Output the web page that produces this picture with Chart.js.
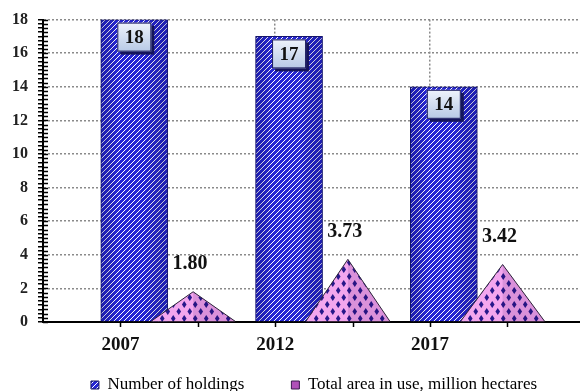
<!DOCTYPE html>
<html>
<head>
<meta charset="utf-8">
<script src="https://cdn.jsdelivr.net/npm/chart.js@4/dist/chart.umd.min.js"></script>
<style>
  html, body { margin: 0; padding: 0; background: #fff; }
  #wrap { width: 580px; height: 391px; position: relative; }
</style>
</head>
<body>
<div id="wrap"><canvas id="holdingsChart"></canvas></div>
<script>
// data
var years = ["2007", "2012", "2017"];
var holdings = [18, 17, 14];
var areaUsed = [1.80, 3.73, 3.42];
var seriesNames = ["Number of holdings", "Total area in use, million hectares"];
var yTicks = [0, 2, 4, 6, 8, 10, 12, 14, 16, 18];

// where the marks sit inside each year slot (the picture is a 3D-ish column chart)
var BAR_SHIFT = 0.09;
var PYR_SHIFT = 0.47;
var X_MAX = 3.47;

var SERIF = "'Liberation Serif', 'Times New Roman', serif";

//-----------------
//- fill patterns -
//-----------------
function makeStripes() {
  var c = document.createElement("canvas");
  c.width = 5; c.height = 5;
  var g = c.getContext("2d");
  g.fillStyle = "#2626d4";
  g.fillRect(0, 0, 5, 5);
  g.strokeStyle = "#ffffff";
  g.lineWidth = 1.0;
  [[-2.5, 2.5, 2.5, -2.5], [0, 5, 5, 0], [2.5, 7.5, 7.5, 2.5]].forEach(function (l) {
    g.beginPath(); g.moveTo(l[0], l[1]); g.lineTo(l[2], l[3]); g.stroke();
  });
  return g.createPattern(c, "repeat");
}

function makeDiamonds() {
  var c = document.createElement("canvas");
  c.width = 11; c.height = 14;
  var g = c.getContext("2d");
  g.fillStyle = "#f3a6ee";
  g.fillRect(0, 0, 11, 14);
  g.fillStyle = "#26188a";
  function diamond(cx, cy) {
    g.beginPath();
    g.moveTo(cx, cy - 3.4); g.lineTo(cx + 2.3, cy); g.lineTo(cx, cy + 3.4); g.lineTo(cx - 2.3, cy);
    g.closePath(); g.fill();
  }
  diamond(2.75, 3.5); diamond(8.25, 10.5); diamond(8.25, -3.5); diamond(2.75, 17.5);
  return g.createPattern(c, "repeat");
}

var stripePattern = makeStripes();
var diamondPattern = makeDiamonds();

function isYearTick(v) {
  var k = v - 0.5;
  return Math.abs(k - Math.round(k)) < 1e-6 && Math.round(k) >= 0 && Math.round(k) < years.length;
}
function isHalfTick(v) {
  return v > 0 && Math.abs(v * 2 - Math.round(v * 2)) < 1e-6;
}
function isMajorY(v) {
  return yTicks.indexOf(Math.round(v * 100) / 100) !== -1;
}

//---------------------------------
//- pyramids, shading and labels -
//---------------------------------
var decorPlugin = {
  id: "decor",
  afterLayout: function (chart) {
    // legend row sits lower and a bit right of where Chart.js puts it
    // (its label padding is used here as the wide gap between the two items)
    var lg = chart.legend;
    if (lg) {
      lg.left = 24;
      lg.right = 604;
      lg.top = 329.5;
      lg.bottom = chart.height;
      lg.height = lg.bottom - lg.top;
      lg.width = lg.right - lg.left;
    }
  },
  afterDatasetsDraw: function (chart) {
    var ctx = chart.ctx;
    var bars = chart.getDatasetMeta(0).data;
    var pyr = chart.getDatasetMeta(1).data;

    // cylinder shading on the columns
    bars.forEach(function (el) {
      var p = el.getProps(["x", "y", "base", "width"], true);
      var l = p.x - p.width / 2, r = p.x + p.width / 2;
      var gr = ctx.createLinearGradient(l, 0, r, 0);
      gr.addColorStop(0, "rgba(10,10,100,0.3)");
      gr.addColorStop(0.25, "rgba(0,0,0,0)");
      gr.addColorStop(0.65, "rgba(0,0,0,0)");
      gr.addColorStop(1, "rgba(10,10,100,0.3)");
      ctx.save();
      ctx.fillStyle = gr;
      ctx.fillRect(l, p.y, p.width, p.base - p.y);
      ctx.restore();
    });

    // pyramids
    pyr.forEach(function (el) {
      var p = el.getProps(["x", "y", "base", "width"], true);
      var l = p.x - p.width / 2, r = p.x + p.width / 2;
      ctx.save();
      ctx.beginPath();
      ctx.moveTo(l, p.base); ctx.lineTo(p.x, p.y); ctx.lineTo(r, p.base); ctx.closePath();
      ctx.fillStyle = diamondPattern;
      ctx.fill();
      ctx.beginPath();
      ctx.moveTo(p.x, p.base); ctx.lineTo(p.x, p.y); ctx.lineTo(r, p.base); ctx.closePath();
      ctx.fillStyle = "rgba(40,0,70,0.12)";
      ctx.fill();
      ctx.beginPath();
      ctx.moveTo(l, p.base); ctx.lineTo(p.x, p.y); ctx.lineTo(r, p.base);
      ctx.strokeStyle = "#2b2238";
      ctx.lineWidth = 1;
      ctx.stroke();
      ctx.restore();
    });

    // value boxes on the columns
    ctx.save();
    ctx.font = "bold 19px " + SERIF;
    ctx.textAlign = "center";
    ctx.textBaseline = "middle";
    bars.forEach(function (el, i) {
      var p = el.getProps(["x", "y"], true);
      var w = 34, h = 29, bx = p.x - w / 2, by = p.y + 3;
      ctx.fillStyle = "#14145a";
      ctx.fillRect(bx + 3, by + 3, w, h);
      var gr = ctx.createLinearGradient(0, by, 0, by + h);
      gr.addColorStop(0, "#eef3fb");
      gr.addColorStop(1, "#b7c9e6");
      ctx.fillStyle = gr;
      ctx.fillRect(bx, by, w, h);
      ctx.strokeStyle = "#1a1a5e";
      ctx.lineWidth = 1;
      ctx.strokeRect(bx + 0.5, by + 0.5, w - 1, h - 1);
      ctx.fillStyle = "#111";
      ctx.fillText(String(holdings[i]), p.x, by + h / 2 + 1);
    });

    // values above the pyramids
    ctx.font = "bold 20px " + SERIF;
    pyr.forEach(function (el, i) {
      var p = el.getProps(["x", "y"], true);
      ctx.fillText(areaUsed[i].toFixed(2), p.x - 3, p.y - 28);
    });
    ctx.restore();
  },
  afterDraw: function (chart) {
    var y = chart.scales.y, x = chart.scales.x, ctx = chart.ctx;
    ctx.save();
    ctx.strokeStyle = "#000";
    ctx.lineWidth = 1.5;
    // y tick marks cross the axis
    y.ticks.forEach(function (t) {
      var py = Math.round(y.getPixelForValue(t.value)) + 0.5;
      ctx.beginPath(); ctx.moveTo(y.right, py); ctx.lineTo(y.right + 5, py); ctx.stroke();
    });
    // short x tick marks under the axis every half slot
    x.ticks.forEach(function (t) {
      if (!isHalfTick(t.value)) return;
      var px = Math.round(x.getPixelForValue(t.value)) + 0.5;
      ctx.beginPath(); ctx.moveTo(px, x.top); ctx.lineTo(px, x.top + 5); ctx.stroke();
    });
    ctx.restore();
  }
};

var barData = holdings.map(function (v, i) { return { x: i + 0.5 + BAR_SHIFT, y: v }; });
var pyrData = areaUsed.map(function (v, i) { return { x: i + 0.5 + PYR_SHIFT, y: v }; });

var chart = new Chart(document.getElementById("holdingsChart"), {
  type: "bar",
  data: {
    datasets: [
      {
        label: seriesNames[0],
        data: barData,
        backgroundColor: stripePattern,
        borderColor: "#16166e",
        borderWidth: 1,
        barThickness: 67,
        grouped: false
      },
      {
        label: seriesNames[1],
        data: pyrData,
        backgroundColor: "rgba(0,0,0,0)",
        borderWidth: 0,
        barThickness: 84,
        grouped: false
      }
    ]
  },
  options: {
    responsive: true,
    maintainAspectRatio: false,
    animation: false,
    events: [],
    layout: { padding: { top: 5.4, left: 0, right: 0, bottom: 3 } },
    scales: {
      x: {
        type: "linear",
        min: 0,
        max: X_MAX,
        offset: false,
        afterFit: function (s) { s.height = 36; },
        ticks: {
          stepSize: 0.5,
          autoSkip: false,
          maxRotation: 0,
          padding: 0,
          color: "#111",
          font: { family: SERIF, size: 19, weight: "bold" },
          callback: function (v) { return isYearTick(v) ? years[Math.round(v - 0.5)] : ""; }
        },
        grid: {
          offset: false,
          color: function (c) { return c.tick && isYearTick(c.tick.value) ? "#8a8a8a" : "rgba(0,0,0,0)"; },
          lineWidth: 1.5,
          tickLength: 12,
          tickColor: "rgba(0,0,0,0)"
        },
        border: { color: "#000", width: 2, dash: [2, 2] }
      },
      y: {
        min: 0,
        max: 18,
        afterFit: function (s) { s.width = 43; },
        ticks: {
          stepSize: 0.25,
          autoSkip: false,
          padding: 10,
          color: "#222",
          font: { family: SERIF, size: 16, weight: "bold" },
          callback: function (v) { return isMajorY(v) ? String(Math.round(v)) : ""; }
        },
        grid: {
          color: function (c) {
            var v = c.tick ? c.tick.value : 0;
            return isMajorY(v) && v > 0 ? "#8a8a8a" : "rgba(0,0,0,0)";
          },
          lineWidth: 1.5,
          tickLength: 5,
          tickWidth: 1.5,
          tickColor: "#000"
        },
        border: { color: "#000", width: 2, dash: [2, 2] }
      }
    },
    plugins: {
      tooltip: { enabled: false },
      legend: {
        position: "bottom",
        maxHeight: 30,
        labels: {
          padding: 47,
          boxWidth: 8,
          boxHeight: 8,
          color: "#333",
          font: { family: SERIF, size: 17 },
          generateLabels: function () {
            return [
              { text: seriesNames[0], fillStyle: stripePattern, strokeStyle: "#1a1a5e", lineWidth: 1, datasetIndex: 0, hidden: false },
              { text: seriesNames[1], fillStyle: "#b050b8", strokeStyle: "#3a1a4e", lineWidth: 1, datasetIndex: 1, hidden: false }
            ];
          }
        }
      }
    }
  },
  plugins: [decorPlugin]
});
</script>
</body>
</html>
